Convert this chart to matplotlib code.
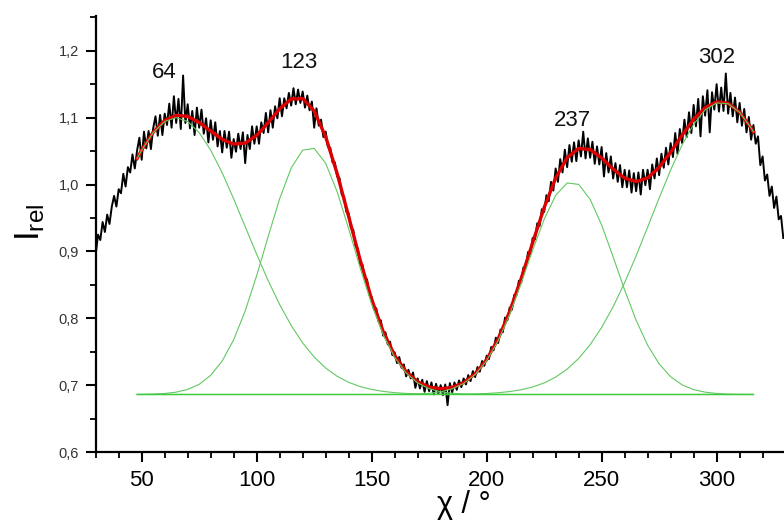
import matplotlib
matplotlib.use("Agg")
import matplotlib.pyplot as plt
from matplotlib.ticker import MultipleLocator, FuncFormatter

plt.rcParams['font.family'] = ['Liberation Sans', 'DejaVu Sans']
plt.rcParams['mathtext.fontset'] = 'custom'
plt.rcParams['mathtext.rm'] = 'Liberation Sans'
plt.rcParams['mathtext.it'] = 'Liberation Sans'

# ---- measured data (chi in degrees, relative intensity) ----
data_x = list(range(30, 330))
data_y = [
    0.895, 0.925, 0.917, 0.944, 0.929, 0.955, 0.941, 0.967, 0.983, 0.967,
    0.993, 0.987, 1.016, 0.997, 1.026, 1.018, 1.045, 1.024, 1.051, 1.070,
    1.037, 1.079, 1.054, 1.080, 1.053, 1.084, 1.102, 1.073, 1.104, 1.074,
    1.106, 1.089, 1.121, 1.085, 1.132, 1.092, 1.128, 1.083, 1.163, 1.092,
    1.120, 1.084, 1.110, 1.074, 1.115, 1.085, 1.112, 1.076, 1.099, 1.063,
    1.096, 1.067, 1.093, 1.057, 1.080, 1.048, 1.080, 1.055, 1.079, 1.040,
    1.068, 1.049, 1.076, 1.053, 1.078, 1.032, 1.074, 1.053, 1.087, 1.061,
    1.087, 1.061, 1.093, 1.077, 1.107, 1.078, 1.111, 1.085, 1.117, 1.099,
    1.129, 1.102, 1.129, 1.114, 1.137, 1.118, 1.144, 1.120, 1.142, 1.122,
    1.139, 1.115, 1.133, 1.111, 1.124, 1.085, 1.114, 1.088, 1.097, 1.071,
    1.079, 1.056, 1.055, 1.033, 1.033, 1.012, 1.010, 0.985, 0.982, 0.959,
    0.957, 0.935, 0.932, 0.908, 0.904, 0.881, 0.880, 0.860, 0.858, 0.835,
    0.832, 0.813, 0.815, 0.795, 0.797, 0.774, 0.779, 0.761, 0.765, 0.745,
    0.749, 0.733, 0.742, 0.726, 0.731, 0.713, 0.723, 0.710, 0.719, 0.696,
    0.710, 0.695, 0.708, 0.690, 0.706, 0.691, 0.704, 0.686, 0.702, 0.687,
    0.700, 0.685, 0.701, 0.670, 0.703, 0.689, 0.704, 0.693, 0.707, 0.697,
    0.710, 0.701, 0.715, 0.706, 0.721, 0.712, 0.727, 0.720, 0.736, 0.729,
    0.744, 0.739, 0.757, 0.752, 0.771, 0.763, 0.783, 0.779, 0.801, 0.797,
    0.816, 0.813, 0.835, 0.835, 0.856, 0.853, 0.876, 0.875, 0.899, 0.896,
    0.920, 0.918, 0.942, 0.938, 0.963, 0.959, 0.984, 0.975, 1.004, 0.991,
    1.024, 1.004, 1.038, 1.018, 1.052, 1.026, 1.059, 1.034, 1.063, 1.035,
    1.066, 1.042, 1.079, 1.039, 1.069, 1.040, 1.064, 1.031, 1.057, 1.030,
    1.056, 1.012, 1.047, 1.018, 1.042, 1.009, 1.032, 1.004, 1.029, 0.996,
    1.022, 0.996, 1.021, 0.988, 1.017, 0.990, 1.018, 0.985, 1.022, 0.999,
    1.022, 0.993, 1.030, 1.009, 1.039, 1.014, 1.046, 1.025, 1.055, 1.030,
    1.062, 1.041, 1.077, 1.046, 1.083, 1.062, 1.097, 1.071, 1.108, 1.077,
    1.119, 1.087, 1.128, 1.072, 1.132, 1.103, 1.141, 1.078, 1.138, 1.112,
    1.150, 1.109, 1.145, 1.110, 1.166, 1.106, 1.137, 1.102, 1.130, 1.093,
    1.122, 1.088, 1.113, 1.078, 1.101, 1.067, 1.089, 1.061, 1.072, 1.029,
    1.042, 1.006, 1.015, 0.983, 0.997, 0.965, 0.982, 0.948, 0.953, 0.920,
]

# ---- fit curves ----
fit_x = [48, 50, 55, 60, 65, 70, 75, 80, 85, 90, 95, 100, 105, 110, 115, 120,
         125, 130, 135, 140, 145, 150, 155, 160, 165, 170, 175, 180, 185, 190,
         195, 200, 205, 210, 215, 220, 225, 230, 235, 240, 245, 250, 255, 260,
         265, 270, 275, 280, 285, 290, 295, 300, 305, 310, 315, 316]

fit_total = [1.0388, 1.0516, 1.0782, 1.0958, 1.1035, 1.1019, 1.0928, 1.0800,
             1.0676, 1.0604, 1.0620, 1.0734, 1.0924, 1.1132, 1.1279, 1.1285,
             1.1100, 1.0713, 1.0163, 0.9521, 0.8871, 0.8283, 0.7802, 0.7443,
             0.7200, 0.7050, 0.6970, 0.6946, 0.6966, 0.7036, 0.7170, 0.7382,
             0.7691, 0.8099, 0.8592, 0.9130, 0.9654, 1.0097, 1.0402, 1.0540,
             1.0523, 1.0397, 1.0230, 1.0095, 1.0044, 1.0099, 1.0256, 1.0483,
             1.0738, 1.0974, 1.1150, 1.1235, 1.1215, 1.1082, 1.0847, 1.0787]

peak_64 = [1.0386, 1.0514, 1.0776, 1.0943, 1.1000, 1.0943, 1.0776, 1.0514,
           1.0175, 0.9785, 0.9371, 0.8956, 0.8562, 0.8204, 0.7893, 0.7631,
           0.7420, 0.7256, 0.7132, 0.7042, 0.6978, 0.6935, 0.6906, 0.6887,
           0.6876, 0.6869, 0.6865, 0.6863, 0.6861, 0.686, 0.686, 0.686,
           0.686, 0.686, 0.686, 0.686, 0.686, 0.686, 0.686, 0.686,
           0.686, 0.686, 0.686, 0.686, 0.686, 0.686, 0.686, 0.686,
           0.686, 0.686, 0.686, 0.686, 0.686, 0.686, 0.686, 0.686]

peak_123 = [0.6862, 0.6862, 0.6866, 0.6875, 0.6895, 0.6936, 0.7012, 0.7146,
            0.7361, 0.7679, 0.8109, 0.8638, 0.9222, 0.9788, 1.0246, 1.0514,
            1.0540, 1.0317, 0.9891, 0.9339, 0.8753, 0.8208, 0.7756, 0.7415,
            0.7181, 0.7033, 0.6947, 0.6901, 0.6878, 0.6867, 0.6863, 0.6861,
            0.686, 0.686, 0.686, 0.686, 0.686, 0.686, 0.686, 0.686,
            0.686, 0.686, 0.686, 0.686, 0.686, 0.686, 0.686, 0.686,
            0.686, 0.686, 0.686, 0.686, 0.686, 0.686, 0.686, 0.686]

peak_237 = [0.686, 0.686, 0.686, 0.686, 0.686, 0.686, 0.686, 0.686,
            0.686, 0.686, 0.686, 0.686, 0.686, 0.686, 0.686, 0.686,
            0.686, 0.686, 0.686, 0.686, 0.686, 0.686, 0.686, 0.6861,
            0.6863, 0.6868, 0.6878, 0.6901, 0.6944, 0.7024, 0.7158, 0.7366,
            0.7665, 0.8055, 0.8521, 0.9018, 0.9481, 0.9837, 1.0023, 1.0002,
            0.9778, 0.9395, 0.8918, 0.8423, 0.7970, 0.7597, 0.7318, 0.7126,
            0.7004, 0.6933, 0.6895, 0.6875, 0.6866, 0.6862, 0.6861, 0.6861]

peak_302 = [0.686, 0.686, 0.686, 0.686, 0.686, 0.686, 0.686, 0.686,
            0.686, 0.686, 0.686, 0.686, 0.686, 0.686, 0.686, 0.686,
            0.686, 0.686, 0.686, 0.686, 0.686, 0.686, 0.686, 0.686,
            0.686, 0.686, 0.686, 0.6861, 0.6863, 0.6865, 0.6869, 0.6875,
            0.6886, 0.6904, 0.6931, 0.6972, 0.7033, 0.7120, 0.7239, 0.7398,
            0.7605, 0.7862, 0.8172, 0.8532, 0.8934, 0.9362, 0.9798, 1.0217,
            1.0594, 1.0901, 1.1115, 1.1220, 1.1209, 1.1080, 1.0846, 1.0787]

baseline_x = [48, 316]
baseline_y = [0.686, 0.686]

peak_labels = ["64", "123", "237", "302"]
label_x = [60, 118.5, 237.5, 300]
label_y = [1.168, 1.182, 1.096, 1.190]

y_ticks = [0.6, 0.7, 0.8, 0.9, 1.0, 1.1, 1.2]
x_ticks = [50, 100, 150, 200, 250, 300]

# ---- figure ----
W, H = 784, 522
fig = plt.figure(figsize=(W / 100, H / 100), dpi=100)
left_px, bottom_px, top_px = 95.7, 452, 16
ax = fig.add_axes([left_px / W, 1 - bottom_px / H, 1 - left_px / W,
                   (bottom_px - top_px) / H])

ax.plot(data_x, data_y, color='black', lw=1.4, zorder=2)
ax.plot(fit_x, fit_total, color='#dd0000', lw=2.4, zorder=3)
for g in (peak_64, peak_123, peak_237, peak_302):
    ax.plot(fit_x, g, color='#62c862', lw=0.8, zorder=4)
ax.plot(baseline_x, baseline_y, color='#3ccc3c', lw=1.0, zorder=4)

for t, x, y in zip(peak_labels, label_x, label_y):
    ax.text(x, y, t, fontsize=16, ha='center', va='center', color='#111111')

ax.set_xlim(30, 329.3)
ax.set_ylim(0.6, 1.252)

for s in ('top', 'right'):
    ax.spines[s].set_visible(False)
for s in ('left', 'bottom'):
    ax.spines[s].set_linewidth(1.6)

ax.set_xticks(x_ticks)
ax.set_yticks(y_ticks)
ax.xaxis.set_minor_locator(MultipleLocator(10))
ax.yaxis.set_minor_locator(MultipleLocator(0.05))
ax.yaxis.set_major_formatter(FuncFormatter(lambda v, p: f"{v:.1f}".replace('.', ',')))
ax.tick_params(axis='both', which='major', direction='out', length=7, width=1.5)
ax.tick_params(axis='both', which='minor', direction='out', length=4, width=1.3)
ax.tick_params(axis='x', which='major', labelsize=16, pad=6)
ax.tick_params(axis='y', which='major', labelsize=10.5, pad=5, labelcolor='#333333')

fig.text(30 / W, 1 - 222 / H, r'$\mathrm{I_{rel}}$', rotation=90, fontsize=25,
         ha='center', va='center')
xl = ax.text(190, 0.6 - (505 - 452) / 666.7, 'χ / °', fontsize=22,
             ha='center', va='center')
xl.set_clip_on(False)

fig.savefig('out.png', dpi=100)
